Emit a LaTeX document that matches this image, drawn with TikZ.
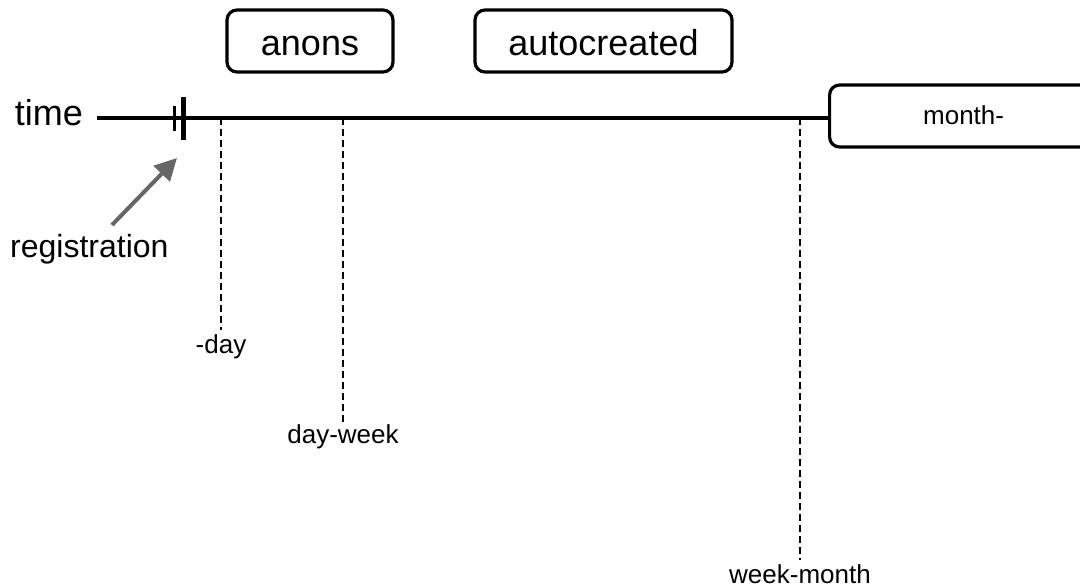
\documentclass[tikz,border=0pt]{standalone}
\usepackage{fontspec}
\setmainfont{Liberation Sans}
\usetikzlibrary{arrows.meta,positioning}
\definecolor{arrowgray}{RGB}{102,102,102}

\begin{document}
\begin{tikzpicture}[x=1pt, y=-1pt, >=Stealth,
    box/.style={draw, line width=3.2pt, rounded corners=10pt, inner sep=0pt,
        minimum height=62pt, text height=28pt, text depth=0pt,
        font=\fontsize{36}{40}\selectfont},
    ticklabel/.style={anchor=north, inner sep=0pt, font=\fontsize{26}{30}\selectfont},
    guide/.style={line width=2pt, dash pattern=on 7pt off 4pt}]

    \useasboundingbox (0,0) rectangle (1080,587);

    % 定义时间轴上的坐标
    \coordinate (T0) at (97,118);
    \coordinate (D1) at (221,118);
    \coordinate (D2) at (343,118);
    \coordinate (D3) at (800,118);

    % 1. 上方的圆角框
    \node[box, minimum width=166pt] (anons) at (310,41) {anons};
    \node[box, minimum width=257pt] (autocreated) at (603.5,41) {autocreated};
    \node[box, minimum width=268pt, anchor=west, text height=16pt,
        font=\fontsize{26}{30}\selectfont] (month) at (828,116) {month-};

    % 2. 时间轴
    \node[anchor=base east, inner sep=0pt, font=\fontsize{36}{40}\selectfont]
        (time) at (83,125) {time};
    \draw[line width=3.2pt] (T0) -- (T0 -| month.west);

    % 注册标记 (一细一粗两条竖线)
    \draw[line width=3pt] (174,106) -- (174,131);
    \draw[line width=5pt] (183,97) -- (183,140);

    % 3. registration 标签及箭头
    \node[anchor=base west, inner sep=0pt, font=\fontsize{32}{36}\selectfont]
        (registration) at (10,257) {registration};
    \coordinate (regtail) at (112,225);
    \coordinate (regtip) at (177,158);
    \draw[-{Triangle[length=22pt,width=22pt]}, line width=4pt, draw=arrowgray, fill=arrowgray]
        (regtail) -- (regtip);

    % 4. 竖直虚线及下方标签
    \coordinate (E1) at (221,330);
    \coordinate (E2) at (343,422);
    \coordinate (E3) at (800,560);
    \draw[guide] (D1) -- (E1);
    \draw[guide] (D2) -- (E2);
    \draw[guide] (D3) -- (E3);
    \node[ticklabel, below=4pt of E1] (day) {-day};
    \node[ticklabel, below=2pt of E2] (dayweek) {day-week};
    \node[ticklabel, below=4pt of E3] (weekmonth) {week-month};

\end{tikzpicture}
\end{document}
